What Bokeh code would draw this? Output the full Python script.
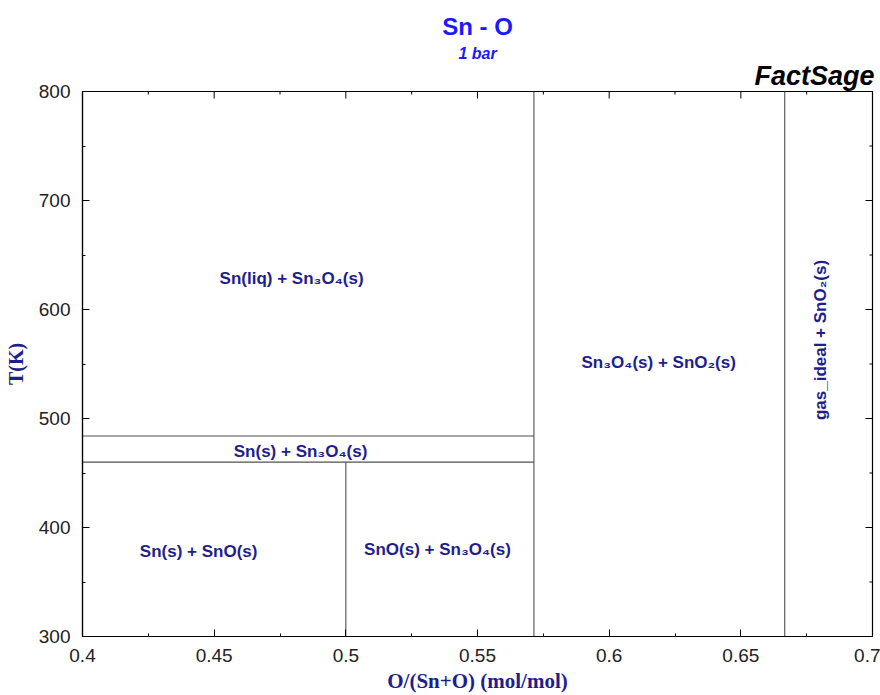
import math
from bokeh.plotting import figure
from bokeh.models import Label, Range1d, Title
from bokeh.embed import file_html
from bokeh.resources import INLINE

# Sn - O phase diagram at 1 bar (FactSage calculation)
x_min, x_max = 0.4, 0.7
t_min, t_max = 300, 800

# Compound compositions, O/(Sn+O)
x_sno = 0.5          # SnO
x_sn3o4 = 4 / 7      # Sn3O4
x_sno2 = 2 / 3       # SnO2

# Invariant temperatures (K)
t_low = 460
t_melt = 484

# Phase boundaries as segments (x0, t0, x1, t1)
seg_x0 = [x_min, x_min, x_sno, x_sn3o4, x_sno2]
seg_t0 = [t_melt, t_low, t_min, t_min, t_min]
seg_x1 = [x_sn3o4, x_sn3o4, x_sno, x_sn3o4, x_sno2]
seg_t1 = [t_melt, t_low, t_low, t_max, t_max]

# Phase-field names
field_names = [
    "Sn(liq) + Sn\u2083O\u2084(s)",
    "Sn(s) + Sn\u2083O\u2084(s)",
    "Sn(s) + SnO(s)",
    "SnO(s) + Sn\u2083O\u2084(s)",
    "Sn\u2083O\u2084(s) + SnO\u2082(s)",
    "gas_ideal + SnO\u2082(s)",
]
# Where each field name is placed (x, T, rotation)
field_spots = [
    (0.4794, 628, 0),
    (0.4828, 470, 0),
    (0.4441, 378, 0),
    (0.5348, 380, 0),
    (0.6188, 551, 0),
    (0.6803, 572, math.pi / 2),
]

x_ticks = [0.4, 0.45, 0.5, 0.55, 0.6, 0.65, 0.7]
x_minor = [0.425, 0.475, 0.525, 0.575, 0.625, 0.675]
t_ticks = [300, 400, 500, 600, 700, 800]
t_minor = [350, 450, 550, 650, 750]

NAVY = "#1e1e8c"
BLUE = "#1a1aff"
SANS = "Liberation Sans"
SERIF = "Liberation Serif"

p = figure(
    width=880, height=695,
    x_range=Range1d(x_min, x_max), y_range=Range1d(t_min, t_max),
    output_backend="svg", toolbar_location=None,
    min_border_left=82, min_border_right=8,
    min_border_top=91, min_border_bottom=59,
    background_fill_color="white", border_fill_color="white",
    title=None,
)
p.xgrid.visible = False
p.ygrid.visible = False
p.outline_line_color = "black"
p.outline_line_width = 1.2

# Title block, stacked outward from the frame
p.add_layout(Title(text="FactSage", align="right", text_font=SANS,
                   text_font_style="bold italic", text_font_size="27px",
                   text_color="black", standoff=1, offset=-2), "above")
p.add_layout(Title(text="1 bar", align="center", text_font=SANS,
                   text_font_style="bold italic", text_font_size="16px",
                   text_color=BLUE, standoff=-6), "above")
p.add_layout(Title(text="Sn - O", align="center", text_font=SANS,
                   text_font_style="bold", text_font_size="24px",
                   text_color=BLUE, standoff=12), "above")

# Bottom and left axes: inward ticks
for ax in (p.xaxis[0], p.yaxis[0]):
    ax.axis_line_color = "black"
    ax.axis_line_width = 1.2
    ax.major_tick_in = 7
    ax.major_tick_out = 0
    ax.minor_tick_in = 3
    ax.minor_tick_out = 0
    ax.major_tick_line_color = "black"
    ax.minor_tick_line_color = "black"
    ax.major_label_text_font = SANS
    ax.major_label_text_font_size = "19px"
    ax.major_label_text_color = "#222222"
    ax.axis_label_text_font = SERIF
    ax.axis_label_text_font_style = "bold"
    ax.axis_label_text_color = NAVY

p.xaxis.ticker = x_ticks
p.xaxis.ticker.minor_ticks = x_minor
p.yaxis.ticker = t_ticks
p.yaxis.ticker.minor_ticks = t_minor
p.xaxis.major_label_standoff = 12
p.yaxis.major_label_standoff = 12
p.xaxis.major_label_overrides = {0.4: "0.4", 0.5: "0.5", 0.6: "0.6", 0.7: "0.7"}

p.xaxis.axis_label = "O/(Sn+O) (mol/mol)"
p.xaxis.axis_label_text_font_size = "21px"
p.xaxis.axis_label_standoff = 4
p.yaxis.axis_label = "T(K)"
p.yaxis.axis_label_text_font_size = "20px"
p.yaxis.axis_label_standoff = 9

# Top and right edges carry the same ticks, pointing inward
p.ray(x=x_ticks, y=[t_max] * len(x_ticks), length=7, length_units="screen",
      angle=-math.pi / 2, line_color="black", line_width=1)
p.ray(x=x_minor, y=[t_max] * len(x_minor), length=3, length_units="screen",
      angle=-math.pi / 2, line_color="black", line_width=1)
p.ray(x=[x_max] * len(t_ticks), y=t_ticks, length=7, length_units="screen",
      angle=math.pi, line_color="black", line_width=1)
p.ray(x=[x_max] * len(t_minor), y=t_minor, length=3, length_units="screen",
      angle=math.pi, line_color="black", line_width=1)

# Phase boundaries
p.segment(seg_x0, seg_t0, seg_x1, seg_t1, line_color="#505050", line_width=1.1)

# Phase-field names
for name, (fx, ft, ang) in zip(field_names, field_spots):
    p.add_layout(Label(
        x=fx, y=ft, text=name, angle=ang,
        text_align="center", text_baseline="middle",
        text_font=SANS, text_font_style="bold", text_font_size="17px",
        text_color=NAVY,
    ))

open("out.html", "w").write(file_html(p, INLINE))
